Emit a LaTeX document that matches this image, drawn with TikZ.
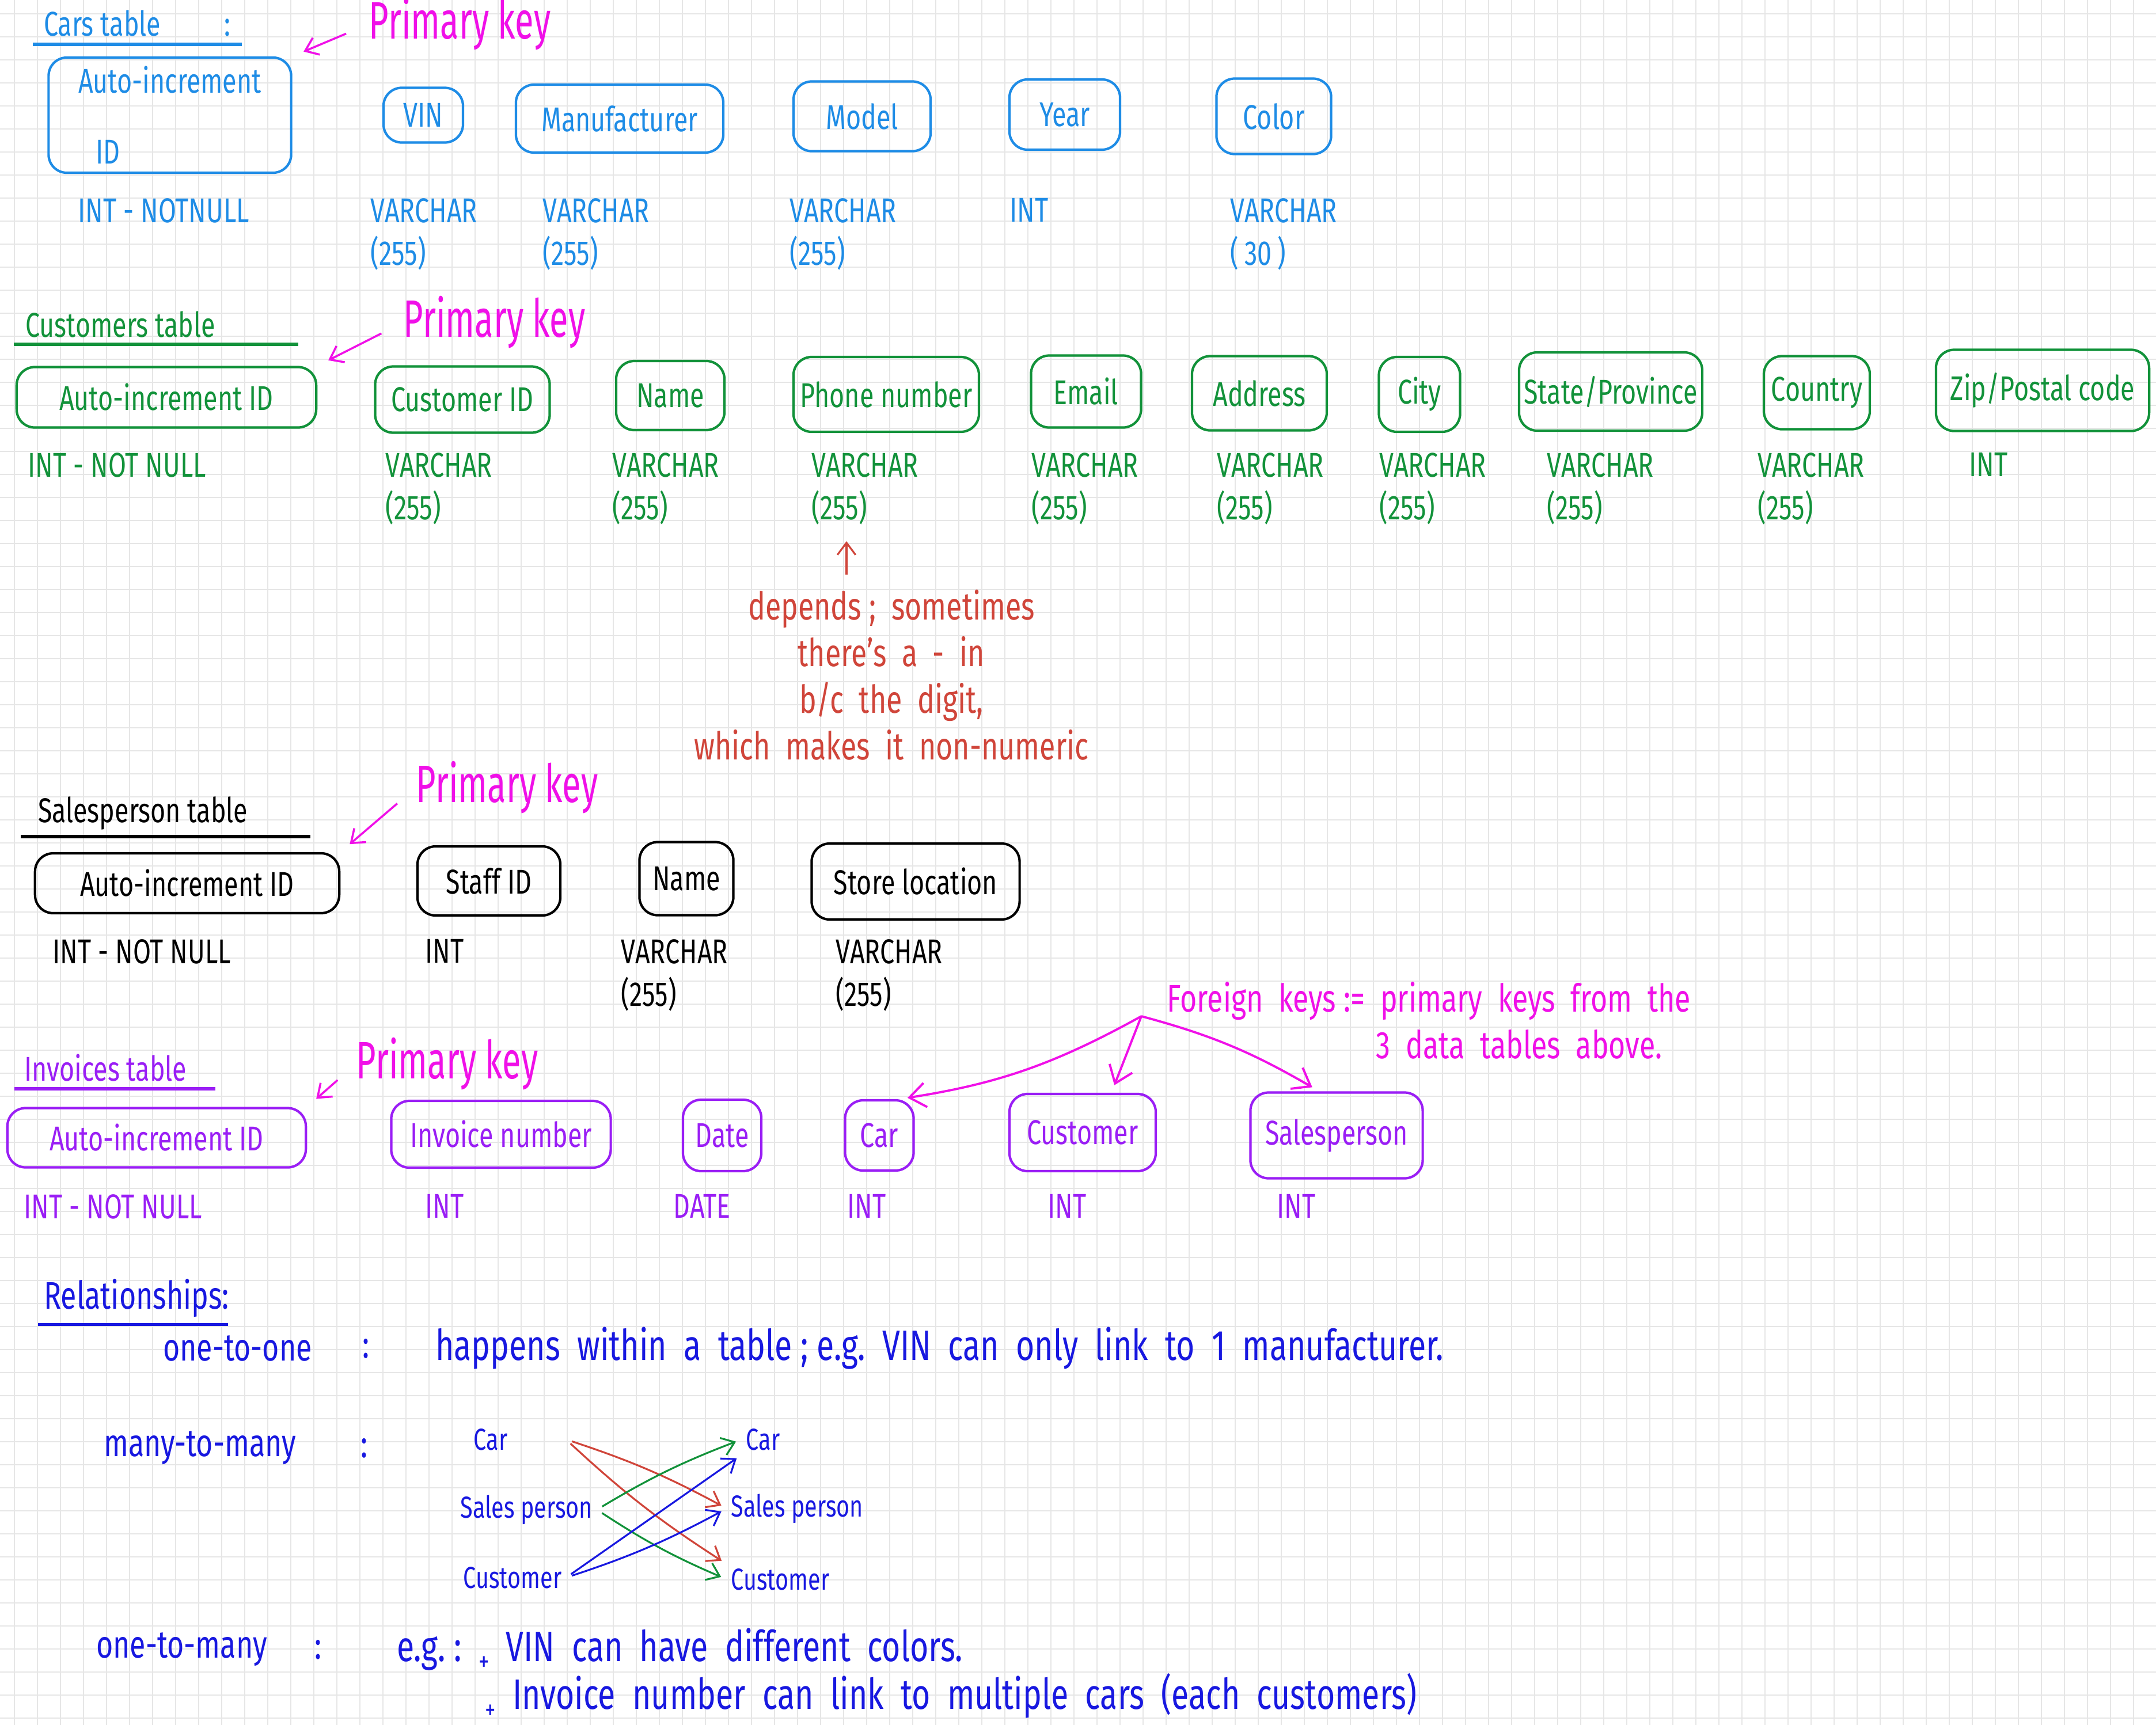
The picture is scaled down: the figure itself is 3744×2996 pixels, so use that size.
\documentclass[tikz,border=0pt]{standalone}
\usepackage{fontspec}
\setmainfont{Fira Sans}[FakeStretch=0.75]
\newfontfamily\pkfam{Fira Sans}[FakeStretch=0.65]
\usetikzlibrary{arrows.meta}
\definecolor{carblue}{HTML}{1E8CE6}
\definecolor{custgreen}{HTML}{12923A}
\definecolor{pkpink}{HTML}{F010E8}
\definecolor{notered}{HTML}{D0453A}
\definecolor{invviolet}{HTML}{9A1EF5}
\definecolor{relblue}{HTML}{1818E0}
\definecolor{gridgray}{HTML}{E6E6E6}
\newcommand\tblfont{\fontsize{17}{21}\selectfont}
\newcommand\pkfont{\pkfam\fontsize{26}{30}\selectfont}
\newcommand\notefont{\fontsize{19}{23}\selectfont}
\newcommand\relfont{\fontsize{19}{23}\selectfont}
\newcommand\relbigfont{\fontsize{21}{25}\selectfont}
\newcommand\mmfont{\fontsize{15}{18}\selectfont}
\newcommand\bulletplus{\raisebox{-5pt}{\fontsize{14}{16}\selectfont +}}
\begin{document}
\begin{tikzpicture}[x=0.01cm, y=-0.01cm,
  gridv/.style={gridgray, line width=0.4pt},
  gridh/.style={gridgray, line width=0.7pt},
  tbox/.style={draw, line width=1.2pt, rounded corners=9pt, font=\tblfont, inner sep=2pt},
  ttype/.style={font=\tblfont, inner sep=0pt, align=left, anchor=north west},
  ttitle/.style={font=\tblfont, anchor=west, inner sep=1pt},
  uline/.style={line width=1.6pt},
  pk/.style={font=\pkfont, text=pkpink, anchor=west, inner sep=0pt},
  pkarrow/.style={pkpink, line width=1pt, -{Straight Barb[length=6pt,width=9pt]}, shorten <=12pt, shorten >=6pt},
  notearrow/.style={notered, line width=0.9pt, -{Straight Barb[length=6pt,width=9pt]}, shorten <=4pt, shorten >=8pt},
  fkarrow/.style={pkpink, line width=1.1pt, -{Straight Barb[length=8pt,width=12pt]}, shorten >=4pt},
  rel/.style={font=\relfont, text=relblue, anchor=west, inner sep=1pt},
  relbig/.style={font=\relbigfont, text=relblue, anchor=west, inner sep=1pt},
  mm/.style={font=\mmfont, text=relblue, anchor=west, inner sep=2pt},
  mmline/.style={line width=0.9pt, -{Straight Barb[length=6pt,width=9pt]}, shorten <=3pt, shorten >=3pt}
]
\fill[white] (0,0) rectangle (3744,2996);
\useasboundingbox (0,0) rectangle (3744,2996);
\foreach \gx in {25,65,...,3744} \draw[gridv] (\gx,0) -- (\gx,2996);
\foreach \gy in {24,64,...,2996} \draw[gridh] (0,\gy) -- (3744,\gy);

\node[ttitle, text=carblue] (cTitle) at (72,40) {Cars table\hspace{1.1cm}:};
\draw[uline, carblue] ([shift={(-15,10)}]cTitle.south west) -- ([shift={(16,10)}]cTitle.south east);
\node[pk] (cPK) at (640,42) {Primary key};
\node[tbox, carblue, minimum width=4.21cm, minimum height=2cm, align=left] (cAuto) at (295,200) {Auto-increment\\[14pt]\hspace*{0.3cm}ID};
\node[tbox, carblue, minimum width=1.38cm, minimum height=0.95cm] (cVIN) at (735,200) {VIN};
\node[tbox, carblue, minimum width=3.6cm, minimum height=1.18cm] (cMan) at (1076,206) {Manufacturer};
\node[tbox, carblue, minimum width=2.38cm, minimum height=1.21cm] (cModel) at (1497,202) {Model};
\node[tbox, carblue, minimum width=1.92cm, minimum height=1.22cm] (cYear) at (1849,199) {Year};
\node[tbox, carblue, minimum width=1.99cm, minimum height=1.31cm] (cColor) at (2212,202) {Color};
\draw[pkarrow] (cPK.west) -- (cAuto.north east);
\node[ttype, text=carblue] (cAutoT) at (135,344) {INT - NOTNULL};
\node[ttype, text=carblue] (cVINT) at (643,344) {VARCHAR\\(255)};
\node[ttype, text=carblue] (cManT) at (942,344) {VARCHAR\\(255)};
\node[ttype, text=carblue] (cModelT) at (1371,344) {VARCHAR\\(255)};
\node[ttype, text=carblue] (cYearT) at (1753,344) {INT};
\node[ttype, text=carblue] (cColorT) at (2136,344) {VARCHAR\\(\,30\,)};

\node[ttitle, text=custgreen] (cuTitle) at (40,563) {Customers table};
\draw[uline, custgreen] ([shift={(-16,8)}]cuTitle.south west) -- ([shift={(140,8)}]cuTitle.south east);
\node[pk] (cuPK) at (700,560) {Primary key};
\node[tbox, custgreen, minimum width=5.2cm, minimum height=1.05cm] (cuAuto) at (289,690) {Auto-increment ID};
\node[tbox, custgreen, minimum width=3.03cm, minimum height=1.15cm] (cuID) at (803,694) {Customer ID};
\node[tbox, custgreen, minimum width=1.88cm, minimum height=1.2cm] (cuName) at (1164,687) {Name};
\node[tbox, custgreen, minimum width=3.22cm, minimum height=1.3cm] (cuPhone) at (1539,685) {Phone number};
\node[tbox, custgreen, minimum width=1.91cm, minimum height=1.25cm] (cuEmail) at (1886,680) {Email};
\node[tbox, custgreen, minimum width=2.34cm, minimum height=1.29cm] (cuAddr) at (2187,683) {Address};
\node[tbox, custgreen, minimum width=1.41cm, minimum height=1.3cm] (cuCity) at (2465,685) {City};
\node[tbox, custgreen, minimum width=3.18cm, minimum height=1.36cm] (cuState) at (2797,680) {State/Province};
\node[tbox, custgreen, minimum width=1.84cm, minimum height=1.27cm] (cuCountry) at (3155,682) {Country};
\node[tbox, custgreen, minimum width=3.7cm, minimum height=1.41cm] (cuZip) at (3547,678) {Zip/Postal code};
\draw[pkarrow] (cuPK.west) -- (cuAuto.north east);
\node[ttype, text=custgreen] (cuAutoT) at (48,786) {INT - NOT NULL};
\node[ttype, text=custgreen] (cuIDT) at (669,786) {VARCHAR\\(255)};
\node[ttype, text=custgreen] (cuNameT) at (1063,786) {VARCHAR\\(255)};
\node[ttype, text=custgreen] (cuPhoneT) at (1409,786) {VARCHAR\\(255)};
\node[ttype, text=custgreen] (cuEmailT) at (1791,786) {VARCHAR\\(255)};
\node[ttype, text=custgreen] (cuAddrT) at (2113,786) {VARCHAR\\(255)};
\node[ttype, text=custgreen] (cuCityT) at (2395,786) {VARCHAR\\(255)};
\node[ttype, text=custgreen] (cuStateT) at (2686,786) {VARCHAR\\(255)};
\node[ttype, text=custgreen] (cuCountryT) at (3052,786) {VARCHAR\\(255)};
\node[ttype, text=custgreen] (cuZipT) at (3419,786) {INT};
\node[font=\notefont, text=notered, align=center] (nNote) at (1548,1172) {depends\ ;\ \ sometimes\\there's\ \ a\ \ -\ \ in\\b/c\ \ the\ \ digit,\\which\ \ makes\ \ it\ \ non-numeric};
\draw[notearrow] ([xshift=-0.78cm]nNote.north) -- ([xshift=-0.78cm]nNote.north |- cuPhoneT.south);

\node[ttitle] (sTitle) at (62,1412) {Salesperson table};
\draw[uline] ([shift={(-26,8)}]sTitle.south west) -- ([shift={(105,8)}]sTitle.south east);
\node[pk] (sPK) at (722,1368) {Primary key};
\node[tbox, minimum width=5.28cm, minimum height=1.04cm] (sAuto) at (325,1534) {Auto-increment ID};
\node[tbox, minimum width=2.48cm, minimum height=1.2cm] (sStaff) at (849,1530) {Staff ID};
\node[tbox, minimum width=1.63cm, minimum height=1.27cm] (sName) at (1192,1526) {Name};
\node[tbox, minimum width=3.61cm, minimum height=1.32cm] (sStore) at (1590,1531) {Store location};
\draw[pkarrow] (sPK.west) -- (sAuto.north east);
\node[ttype] (sAutoT) at (91,1631) {INT - NOT NULL};
\node[ttype] (sStaffT) at (738,1631) {INT};
\node[ttype] (sNameT) at (1078,1631) {VARCHAR\\(255)};
\node[ttype] (sStoreT) at (1451,1631) {VARCHAR\\(255)};

\node[ttitle, text=invviolet] (iTitle) at (38,1855) {Invoices table};
\draw[uline, invviolet] ([shift={(-13,8)}]iTitle.south west) -- ([shift={(46,8)}]iTitle.south east);
\node[pk] (iPK) at (618,1848) {Primary key};
\node[tbox, invviolet, minimum width=5.18cm, minimum height=1.03cm] (iAuto) at (272,1976) {Auto-increment ID};
\node[tbox, invviolet, minimum width=3.81cm, minimum height=1.16cm] (iInv) at (870,1970) {Invoice number};
\node[tbox, invviolet, minimum width=1.36cm, minimum height=1.24cm] (iDate) at (1254,1972) {Date};
\node[tbox, invviolet, minimum width=1.19cm, minimum height=1.22cm] (iCar) at (1527,1972) {Car};
\node[tbox, invviolet, minimum width=2.54cm, minimum height=1.34cm] (iCust) at (1880,1967) {Customer};
\node[tbox, invviolet, minimum width=2.99cm, minimum height=1.49cm] (iSales) at (2321,1972) {Salesperson};
\draw[pkarrow] (iPK.west) -- (iAuto.north east);
\node[ttype, text=invviolet] (iAutoT) at (41,2074) {INT - NOT NULL};
\node[ttype, text=invviolet] (iInvT) at (738,2074) {INT};
\node[ttype, text=invviolet] (iDateT) at (1169,2074) {DATE};
\node[ttype, text=invviolet] (iCarT) at (1471,2074) {INT};
\node[ttype, text=invviolet] (iCustT) at (1819,2074) {INT};
\node[ttype, text=invviolet] (iSalesT) at (2217,2074) {INT};
\node[font=\notefont, text=pkpink, align=left, anchor=north west, inner sep=0pt] (nFK) at (2026,1705) {Foreign\ \ keys\ :=\ \ primary\ \ keys\ \ from\ \ the\\\hspace*{3.63cm}3\ \ data\ \ tables\ \ above.};
\coordinate (fkfork) at ([shift={(-44,60)}]nFK.north west);
\draw[fkarrow] (fkfork) to[bend left=10] ([xshift=0.35cm]iCar.north);
\draw[fkarrow] (fkfork) -- ([xshift=0.5cm]iCust.north);
\draw[fkarrow] (fkfork) to[out=-15,in=150] ([xshift=-0.3cm]iSales.north);

\node[rel] (rTitle) at (72,2255) {Relationships:};
\draw[uline, relblue] ([shift={(-6,8)}]rTitle.south west) -- ([shift={(-6,8)}]rTitle.south east);
\node[rel] (r11) at (279,2342) {one-to-one};
\node[rel] (r11c) at (625,2342) {:};
\node[relbig] (r11t) at (752,2342) {happens\ \ within\ \ a\ \ table\ ;\ e.g.\ \ VIN\ \ can\ \ only\ \ link\ \ to\ \ 1\ \ manufacturer.};
\node[rel] (rMM) at (176,2515) {many-to-many};
\node[rel] (rMMc) at (622,2515) {:};
\node[mm] (mL1) at (815,2500) {Car};
\node[mm] (mL2) at (792,2622) {Sales person};
\node[mm] (mL3) at (797,2740) {Customer};
\node[mm] (mR1) at (1288,2500) {Car};
\node[mm] (mR2) at (1262,2620) {Sales person};
\node[mm] (mR3) at (1262,2743) {Customer};
\draw[mmline, notered] (mL1 -| mL3.east) to[bend left=5] (mR2.west);
\draw[mmline, notered] (mL1 -| mL3.east) to[bend right=5] (mR3.north west);
\draw[mmline, custgreen] (mL2.east) to[bend left=5] (mR1.west);
\draw[mmline, custgreen] (mL2.east) to[bend right=5] (mR3.west);
\draw[mmline, relblue] (mL3.east) -- (mR1.south west);
\draw[mmline, relblue] (mL3.east) to[bend right=5] (mR2.west);
\node[rel] (r1M) at (163,2865) {one-to-many};
\node[rel] (r1Mc) at (542,2865) {:};
\node[relbig] (r1Ma) at (685,2865) {e.g.\ :\ \ \bulletplus\ \ VIN\ \ can\ \ have\ \ different\ \ colors.};
\node[relbig] (r1Mb) at (838,2946) {\bulletplus\ \ Invoice\ \ number\ \ can\ \ link\ \ to\ \ multiple\ \ cars\ \ (each\ \ customers)};
\end{tikzpicture}
\end{document}
